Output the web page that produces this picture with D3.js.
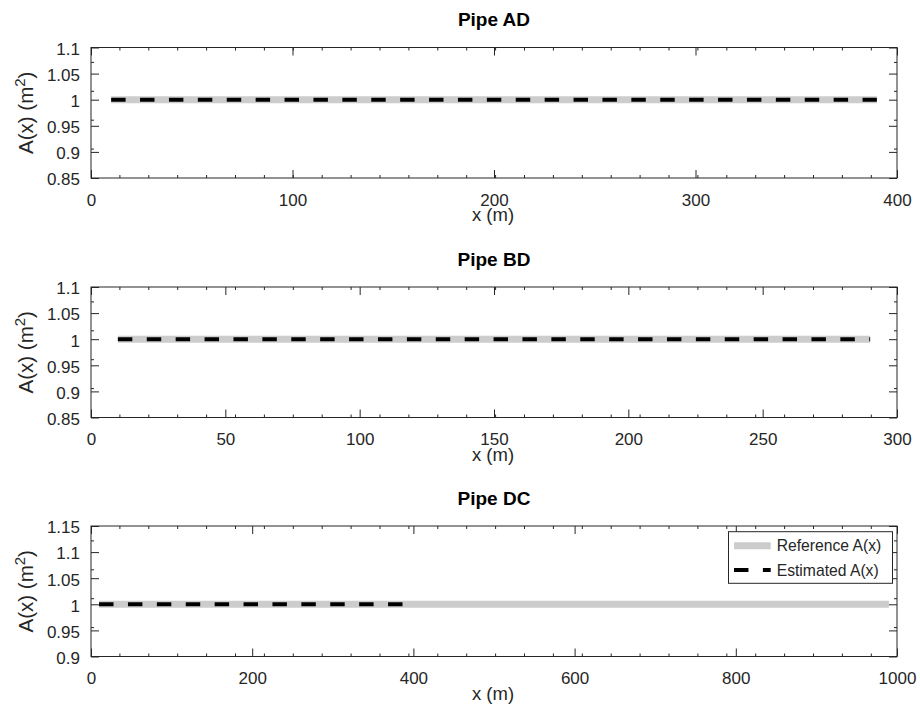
<!DOCTYPE html>
<html>
<head>
<meta charset="utf-8">
<script src="https://cdn.jsdelivr.net/npm/d3@7"></script>
<style>
  body { margin: 0; background: #fff; }
  svg { display: block; font-family: "Liberation Sans", Arial, Helvetica, sans-serif; }
</style>
</head>
<body>
<svg id="chart" width="920" height="711"></svg>
<script>
// pipe names and axis setups
const pipeNames = ["Pipe AD", "Pipe BD", "Pipe DC"];
const xDomains = [[0, 400], [0, 300], [0, 1000]];
const yDomains = [[0.85, 1.1], [0.85, 1.1], [0.9, 1.15]];
const xTickVals = [[0, 100, 200, 300, 400], [0, 50, 100, 150, 200, 250, 300], [0, 200, 400, 600, 800, 1000]];
const yTickVals = [[0.85, 0.9, 0.95, 1, 1.05, 1.1], [0.85, 0.9, 0.95, 1, 1.05, 1.1], [0.9, 0.95, 1, 1.05, 1.1, 1.15]];

// reference area A(x) (grey) and estimated (dashed)
const refX = [[10, 390], [10, 290], [10, 990]];
const refA = [[1, 1], [1, 1], [1, 1]];
const estX = [[10, 390], [10, 290], [10, 390]];
const estA = [[1, 1], [1, 1], [1, 1]];

const svg = d3.select("#chart");
const axisCol = "#262626";
const left = 91, right = 897;
const tops = [47.5, 287, 526];
const plotH = 130.5;
const w = right - left;

function addMinor(g, h) {
  // small inner ticks all round the box
  const step = 28.9;
  const mx = d3.range(step, w - 2, step);
  const my = d3.range(step, h - 2, step);
  mx.forEach(px => {
    g.append("line").attr("x1", px).attr("x2", px).attr("y1", h).attr("y2", h - 3).attr("stroke", axisCol);
    g.append("line").attr("x1", px).attr("x2", px).attr("y1", 0).attr("y2", 3).attr("stroke", axisCol);
  });
  my.forEach(py => {
    g.append("line").attr("x1", 0).attr("x2", 3).attr("y1", h - py).attr("y2", h - py).attr("stroke", axisCol);
    g.append("line").attr("x1", w).attr("x2", w - 3).attr("y1", h - py).attr("y2", h - py).attr("stroke", axisCol);
  });
}

pipeNames.forEach((name, i) => {
  const g = svg.append("g").attr("transform", `translate(${left},${tops[i]})`);
  const x = d3.scaleLinear().domain(xDomains[i]).range([0, w]);
  const y = d3.scaleLinear().domain(yDomains[i]).range([plotH, 0]);

  // lines first so the axes sit on top
  const line = d3.line().x(d => x(d[0])).y(d => y(d[1]));
  g.append("path")
    .datum(refX[i].map((v, k) => [v, refA[i][k]]))
    .attr("d", line)
    .attr("fill", "none")
    .attr("stroke", "#cccccc")
    .attr("stroke-width", 7);
  g.append("path")
    .datum(estX[i].map((v, k) => [v, estA[i][k]]))
    .attr("d", line)
    .attr("fill", "none")
    .attr("stroke", "#000")
    .attr("stroke-width", 4)
    .attr("stroke-dasharray", "14.45 14.45");

  const bottom = g.append("g").attr("transform", `translate(0,${plotH})`)
    .call(d3.axisBottom(x).tickValues(xTickVals[i]).tickSize(-8).tickSizeOuter(0).tickFormat(d3.format("d")));
  const top = g.append("g")
    .call(d3.axisTop(x).tickValues(xTickVals[i]).tickSize(-8).tickSizeOuter(0).tickFormat(""));
  const leftAx = g.append("g")
    .call(d3.axisLeft(y).tickValues(yTickVals[i]).tickSize(-8).tickSizeOuter(0).tickFormat(d3.format("~g")));
  const rightAx = g.append("g").attr("transform", `translate(${w},0)`)
    .call(d3.axisRight(y).tickValues(yTickVals[i]).tickSize(-8).tickSizeOuter(0).tickFormat(""));

  [bottom, top, leftAx, rightAx].forEach(a => {
    a.select(".domain").remove();
    a.selectAll("line").attr("stroke", axisCol);
  });
  bottom.selectAll("text").attr("y", 27.5).attr("dy", 0)
    .attr("font-size", 17).attr("fill", axisCol).attr("font-family", null);
  leftAx.selectAll("text").attr("x", -11).attr("dy", "0.4em")
    .attr("font-size", 17).attr("fill", axisCol).attr("font-family", null);

  addMinor(g, plotH);

  g.append("rect").attr("width", w).attr("height", plotH)
    .attr("fill", "none").attr("stroke", axisCol).attr("stroke-width", 1);

  g.append("text")
    .attr("x", w / 2).attr("y", -21.5)
    .attr("text-anchor", "middle")
    .attr("font-weight", "bold")
    .attr("font-size", 19)
    .attr("fill", "#000")
    .text(name);

  g.append("text")
    .attr("x", w / 2 - 1).attr("y", plotH + 43)
    .attr("text-anchor", "middle")
    .attr("font-size", 18.5)
    .attr("fill", axisCol)
    .text("x (m)");

  const yl = g.append("text")
    .attr("transform", `translate(${33 - left},${plotH / 2}) rotate(-90)`)
    .attr("text-anchor", "middle")
    .attr("font-size", 20.5)
    .attr("fill", axisCol);
  yl.append("tspan").text("A(x) (m");
  yl.append("tspan").attr("font-size", 15).attr("dy", "-0.55em").text("2");
  yl.append("tspan").attr("dy", "0.4em").text(")");

  // legend only on the last panel
  if (i === 2) {
    const lg = svg.append("g").attr("transform", "translate(728.5,531.7)");
    lg.append("rect").attr("width", 164).attr("height", 51.6)
      .attr("fill", "#fff").attr("stroke", axisCol).attr("stroke-width", 1);
    const items = [
      { label: "Reference A(x)", color: "#cccccc", width: 7, dash: null },
      { label: "Estimated A(x)", color: "#000", width: 4, dash: "14.45 14.45" }
    ];
    items.forEach((it, k) => {
      const yy = 14 + k * 24.3;
      lg.append("line").attr("x1", 5.5).attr("x2", 42.2).attr("y1", yy).attr("y2", yy)
        .attr("stroke", it.color).attr("stroke-width", it.width)
        .attr("stroke-dasharray", it.dash);
      lg.append("text").attr("x", 48.2).attr("y", yy).attr("dy", "0.36em")
        .attr("font-size", 15.7).attr("fill", axisCol).text(it.label);
    });
  }
});
</script>
</body>
</html>
